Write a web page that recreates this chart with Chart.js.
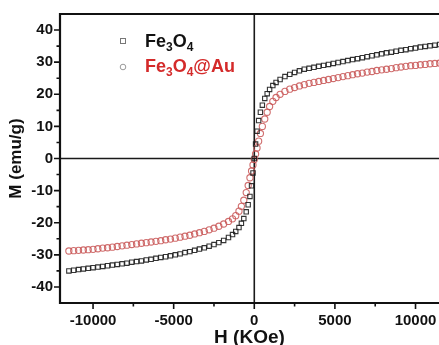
<!DOCTYPE html>
<html>
<head>
<meta charset="utf-8">
<script src="https://cdn.jsdelivr.net/npm/chart.js@4.4.0/dist/chart.umd.min.js"></script>
<style>
    body { margin: 0; background: #ffffff; }
    #wrap { width: 439px; height: 345px; overflow: hidden; }
</style>
</head>
<body>
<div id="wrap"><canvas id="mhChart" width="444" height="345"></canvas></div>
<script>
// M-H curves
const fieldH = [
    -11500, -11200, -10900, -10600, -10300, -10000, -9700, -9400, -9100, -8800,
    -8500, -8200, -7900, -7600, -7300, -7000, -6700, -6400, -6100, -5800,
    -5500, -5200, -4900, -4600, -4300, -4000, -3700, -3400, -3100, -2800,
    -2500, -2200, -1900, -1600, -1350, -1150, -950, -800, -650, -500,
    -380, -270, -170, -80, 0,
    80, 170, 270, 380, 500, 650, 800, 950, 1150, 1350,
    1600, 1900, 2200, 2500, 2800, 3100, 3400, 3700, 4000, 4300,
    4600, 4900, 5200, 5500, 5800, 6100, 6400, 6700, 7000, 7300,
    7600, 7900, 8200, 8500, 8800, 9100, 9400, 9700, 10000, 10300,
    10600, 10900, 11200, 11500
];
const fe3o4M = [
    -35.0, -34.8, -34.6, -34.4, -34.2, -34.0, -33.8, -33.6, -33.4, -33.2,
    -33.0, -32.8, -32.6, -32.3, -32.1, -31.9, -31.6, -31.4, -31.1, -30.8,
    -30.6, -30.3, -30.0, -29.7, -29.3, -29.0, -28.6, -28.2, -27.8, -27.3,
    -26.8, -26.2, -25.5, -24.6, -23.7, -22.7, -21.5, -20.2, -18.7, -16.6,
    -14.4, -11.8, -8.5, -4.5, 0.0,
    4.5, 8.5, 11.8, 14.4, 16.6, 18.7, 20.2, 21.5, 22.7, 23.7,
    24.6, 25.5, 26.2, 26.8, 27.3, 27.8, 28.1, 28.4, 28.7, 29.0,
    29.3, 29.6, 29.9, 30.2, 30.5, 30.8, 31.1, 31.4, 31.7, 32.0,
    32.3, 32.6, 32.9, 33.1, 33.4, 33.7, 33.9, 34.2, 34.4, 34.7,
    34.9, 35.1, 35.3, 35.5
];
const fe3o4AuM = [
    -28.8, -28.7, -28.6, -28.5, -28.4, -28.3, -28.1, -27.9, -27.8, -27.6,
    -27.4, -27.2, -27.0, -26.8, -26.6, -26.4, -26.2, -26.0, -25.8, -25.6,
    -25.3, -25.1, -24.8, -24.5, -24.2, -23.9, -23.5, -23.1, -22.7, -22.2,
    -21.7, -21.1, -20.4, -19.6, -18.8, -17.8, -16.4, -14.9, -13.0, -10.6,
    -8.4, -6.0, -3.9, -2.0, -0.3,
    1.4, 3.3, 5.4, 7.8, 10.0, 12.3, 14.4, 16.2, 17.8, 19.0,
    20.0, 20.9, 21.6, 22.1, 22.6, 23.0, 23.4, 23.7, 24.0, 24.3,
    24.6, 24.9, 25.2, 25.5, 25.8, 26.1, 26.4, 26.6, 26.9, 27.1,
    27.4, 27.6, 27.8, 28.0, 28.3, 28.5, 28.7, 28.9, 29.0, 29.2,
    29.3, 29.5, 29.6, 29.7
];
const seriesLabels = ['Fe3O4', 'Fe3O4@Au'];
const xTicks = [-10000, -5000, 0, 5000, 10000];
const xMinorTicks = [-7500, -2500, 2500, 7500];
const yTicks = [-40, -30, -20, -10, 0, 10, 20, 30, 40];
const yMinorTicks = [-35, -25, -15, -5, 5, 15, 25, 35];

const FONT = "'Liberation Sans', Arial, sans-serif";

function toPoints(xs, ys) {
    return xs.map((x, i) => ({ x: x, y: ys[i] }));
}

// draw a formula with digits as subscripts
function drawFormula(ctx, text, x, y, size, color) {
    ctx.fillStyle = color;
    ctx.textBaseline = 'alphabetic';
    ctx.textAlign = 'left';
    const parts = text.match(/\d+|\D+/g);
    parts.forEach(p => {
        const sub = /^\d+$/.test(p);
        ctx.font = 'bold ' + (sub ? Math.round(size * 0.68) : size) + 'px ' + FONT;
        ctx.fillText(p, x, sub ? y + size * 0.22 : y);
        x += ctx.measureText(p).width;
    });
}

const framePlugin = {
    id: 'framePlugin',
    beforeDatasetsDraw(chart) {
        const ctx = chart.ctx;
        const a = chart.chartArea;
        const x0 = chart.scales.x.getPixelForValue(0);
        const y0 = chart.scales.y.getPixelForValue(0);
        ctx.save();
        ctx.strokeStyle = '#1a1a1a';
        ctx.lineWidth = 1.6;
        ctx.beginPath();
        ctx.moveTo(x0, a.top);
        ctx.lineTo(x0, a.bottom);
        ctx.moveTo(a.left, y0);
        ctx.lineTo(a.right + 10, y0);
        ctx.stroke();
        ctx.restore();
    },
    afterDatasetsDraw(chart) {
        const ctx = chart.ctx;
        const a = chart.chartArea;
        const sx = chart.scales.x;
        const sy = chart.scales.y;
        ctx.save();
        ctx.strokeStyle = '#111111';
        ctx.lineWidth = 2.2;
        ctx.beginPath();
        ctx.moveTo(a.right + 10, a.top);
        ctx.lineTo(a.left, a.top);
        ctx.lineTo(a.left, a.bottom);
        ctx.lineTo(a.right + 10, a.bottom);
        ctx.stroke();

        ctx.lineWidth = 1.6;
        ctx.beginPath();
        yTicks.forEach(v => {
            const p = sy.getPixelForValue(v);
            ctx.moveTo(a.left - 6, p);
            ctx.lineTo(a.left, p);
        });
        yMinorTicks.forEach(v => {
            const p = sy.getPixelForValue(v);
            ctx.moveTo(a.left - 3.5, p);
            ctx.lineTo(a.left, p);
        });
        xTicks.forEach(v => {
            const p = sx.getPixelForValue(v);
            ctx.moveTo(p, a.bottom);
            ctx.lineTo(p, a.bottom + 6);
        });
        xMinorTicks.forEach(v => {
            const p = sx.getPixelForValue(v);
            ctx.moveTo(p, a.bottom);
            ctx.lineTo(p, a.bottom + 3.5);
        });
        ctx.stroke();

        // legend
        ctx.lineWidth = 1;
        ctx.strokeStyle = '#777777';
        ctx.strokeRect(120.5, 38.5, 5, 5);
        ctx.beginPath();
        ctx.arc(123, 67, 2.8, 0, Math.PI * 2);
        ctx.strokeStyle = '#999999';
        ctx.stroke();
        drawFormula(ctx, seriesLabels[0], 145, 47, 18, '#111111');
        drawFormula(ctx, seriesLabels[1], 145, 72, 18, '#d42a2a');
        ctx.restore();
    }
};

const ctx = document.getElementById('mhChart').getContext('2d');

new Chart(ctx, {
    type: 'scatter',
    data: {
        datasets: [
            {
                label: seriesLabels[0],
                data: toPoints(fieldH, fe3o4M),
                pointStyle: 'rect',
                pointRadius: 3.1,
                borderWidth: 1.1,
                borderColor: 'rgba(30, 30, 30, 0.9)',
                backgroundColor: 'rgba(255, 255, 255, 0)'
            },
            {
                label: seriesLabels[1],
                data: toPoints(fieldH, fe3o4AuM),
                pointStyle: 'circle',
                pointRadius: 3.1,
                borderWidth: 1.1,
                borderColor: 'rgba(200, 85, 85, 0.85)',
                backgroundColor: 'rgba(255, 255, 255, 0)'
            }
        ]
    },
    options: {
        responsive: false,
        animation: false,
        layout: { padding: { top: 14, right: 0, left: 0, bottom: 0 } },
        plugins: {
            legend: { display: false },
            tooltip: { enabled: false }
        },
        scales: {
            x: {
                type: 'linear',
                min: -12050,
                max: 11450,
                afterFit: scale => {
                    scale.height = 42;
                    scale.paddingLeft = 0;
                    scale.paddingRight = 0;
                },
                afterBuildTicks: scale => { scale.ticks = xTicks.map(v => ({ value: v })); },
                grid: { display: false, drawTicks: false },
                border: { display: false },
                ticks: {
                    color: '#111111',
                    padding: 9,
                    maxRotation: 0,
                    autoSkip: false,
                    font: { family: FONT, size: 15, weight: 'bold' },
                    callback: value => String(value)
                },
                title: {
                    display: true,
                    text: 'H (KOe)',
                    color: '#111111',
                    padding: { top: 0, bottom: -2 },
                    font: { family: FONT, size: 19, weight: 'bold', lineHeight: 1 }
                }
            },
            y: {
                type: 'linear',
                min: -45,
                max: 45,
                afterFit: scale => {
                    scale.width = 60;
                    scale.paddingTop = 0;
                    scale.paddingBottom = 0;
                },
                afterBuildTicks: scale => { scale.ticks = yTicks.map(v => ({ value: v })); },
                grid: { display: false, drawTicks: false },
                border: { display: false },
                ticks: {
                    color: '#111111',
                    padding: 7,
                    autoSkip: false,
                    font: { family: FONT, size: 15, weight: 'bold' },
                    callback: value => String(value)
                },
                title: {
                    display: true,
                    text: 'M (emu/g)',
                    color: '#111111',
                    padding: { top: 8, bottom: 0 },
                    font: { family: FONT, size: 17, weight: 'bold', lineHeight: 1 }
                }
            }
        }
    },
    plugins: [framePlugin]
});
</script>
</body>
</html>
